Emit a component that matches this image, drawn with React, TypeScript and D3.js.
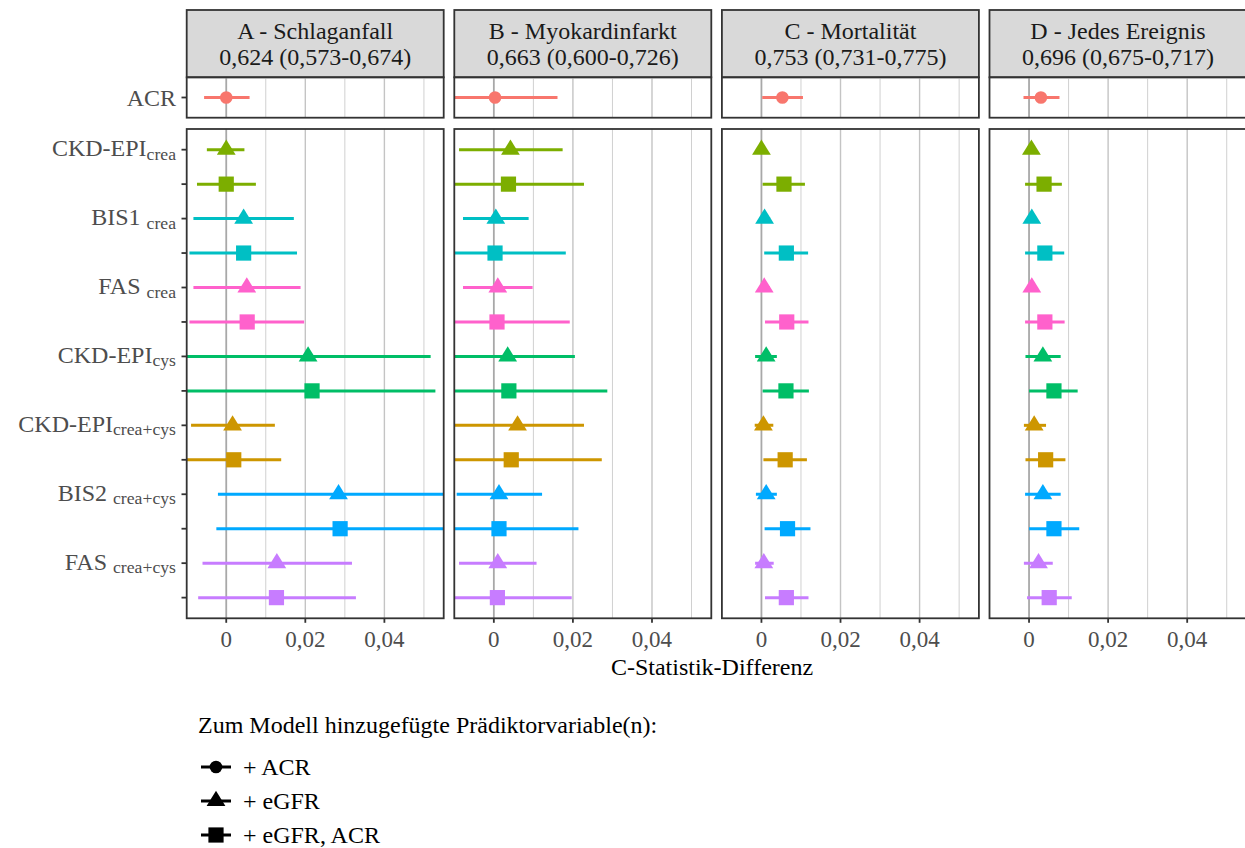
import React from "react";
import * as d3 from "d3";

// ---------- data ----------
const panelTitles = ["A - Schlaganfall", "B - Myokardinfarkt", "C - Mortalität", "D - Jedes Ereignis"];
const panelStats = ["0,624 (0,573-0,674)", "0,663 (0,600-0,726)", "0,753 (0,731-0,775)", "0,696 (0,675-0,717)"];

const eGFRNames = ["CKD-EPI", "BIS1 ", "FAS ", "CKD-EPI", "CKD-EPI", "BIS2 ", "FAS "];
const eGFRSubs = ["crea", "crea", "crea", "cys", "crea+cys", "crea+cys", "crea+cys"];
const eGFRColors = ["#7CAE00", "#00BFC4", "#FF61CC", "#00BE67", "#CD9600", "#00A9FF", "#C77CFF"];
const acrColor = "#F8766D";

// + ACR (one per panel A..D)
const acrEst = [0.0, 0.0003, 0.0053, 0.003];
const acrLo = [-0.0056, -0.012, 0.0002, -0.0014];
const acrHi = [0.0059, 0.0161, 0.0105, 0.0077];

// + eGFR (triangle), per panel, rows in eGFR order
const triEstA = [0.0, 0.0044, 0.0052, 0.0207, 0.0016, 0.0284, 0.0128];
const triLoA = [-0.0049, -0.0083, -0.0083, -0.012, -0.0089, -0.0021, -0.006];
const triHiA = [0.0046, 0.0171, 0.0188, 0.0517, 0.0123, 0.062, 0.0318];
const triEstB = [0.0042, 0.0005, 0.001, 0.0035, 0.006, 0.0013, 0.001];
const triLoB = [-0.0088, -0.0078, -0.0078, -0.011, -0.011, -0.0094, -0.0088];
const triHiB = [0.0174, 0.0088, 0.0098, 0.0205, 0.0228, 0.0122, 0.0108];
const triEstC = [0.0, 0.0008, 0.0007, 0.0012, 0.0005, 0.0012, 0.0006];
const triLoC = [-0.0008, -0.0005, -0.0005, -0.0016, -0.0017, -0.0014, -0.0016];
const triHiC = [0.0008, 0.0022, 0.0021, 0.0039, 0.003, 0.0039, 0.0031];
const triEstD = [0.0006, 0.0007, 0.0007, 0.0035, 0.0013, 0.0035, 0.0024];
const triLoD = [-0.0005, -0.0005, -0.0005, -0.0009, -0.0013, -0.001, -0.0013];
const triHiD = [0.0018, 0.002, 0.002, 0.008, 0.0043, 0.008, 0.006];

// + eGFR, ACR (square)
const sqEstA = [0.0, 0.0044, 0.0053, 0.0217, 0.0019, 0.0288, 0.0127];
const sqLoA = [-0.0074, -0.0093, -0.0093, -0.0125, -0.0105, -0.0025, -0.0071];
const sqHiA = [0.0075, 0.0179, 0.0197, 0.0529, 0.0139, 0.063, 0.0328];
const sqEstB = [0.0037, 0.0003, 0.0008, 0.0038, 0.0044, 0.0013, 0.0009];
const sqLoB = [-0.0115, -0.0115, -0.011, -0.0125, -0.012, -0.0115, -0.011];
const sqHiB = [0.0228, 0.0182, 0.0192, 0.0287, 0.0273, 0.0214, 0.0197];
const sqEstC = [0.0057, 0.0063, 0.0064, 0.0062, 0.006, 0.0066, 0.0063];
const sqLoC = [0.0003, 0.0007, 0.0009, 0.0003, 0.0005, 0.0008, 0.0009];
const sqHiC = [0.011, 0.0118, 0.0119, 0.012, 0.0115, 0.0124, 0.0119];
const sqEstD = [0.0038, 0.004, 0.004, 0.0063, 0.0042, 0.0063, 0.0051];
const sqLoD = [-0.001, -0.001, -0.001, 0.0, -0.0009, 0.0, -0.0005];
const sqHiD = [0.0083, 0.0089, 0.009, 0.0123, 0.0092, 0.0127, 0.0108];

const triEst = [triEstA, triEstB, triEstC, triEstD];
const triLo = [triLoA, triLoB, triLoC, triLoD];
const triHi = [triHiA, triHiB, triHiC, triHiD];
const sqEst = [sqEstA, sqEstB, sqEstC, sqEstD];
const sqLo = [sqLoA, sqLoB, sqLoC, sqLoD];
const sqHi = [sqHiA, sqHiB, sqHiC, sqHiD];

const xDomain = [-0.01, 0.055];
const majorTicks = [0, 0.02, 0.04];
const minorTicks = [0.01, 0.03, 0.05];

const xTitle = "C-Statistik-Differenz";
const legendTitle = "Zum Modell hinzugefügte Prädiktorvariable(n):";
const legendLabels = ["+ ACR", "+ eGFR", "+ eGFR, ACR"];
const legendShapes = ["circle", "triangle", "square"];

// ---------- layout ----------
const W = 1245;
const H = 848;
const FONT = "'Liberation Serif', 'Times New Roman', serif";
const panelLeft0 = 186.7;
const panelStep = 267.6;
const panelW = 257;
const stripTop = 10;
const stripBottom = 77.3;
const topBottom = 117.7;
const botTop = 129;
const botBottom = 618.3;
const borderColor = "#333333";
const FS = 24;

const locale = d3.formatLocale({ decimal: ",", thousands: ".", grouping: [3], currency: ["", "€"] });
const fmt = locale.format(".2~f");

function Marker({ shape, x, y, color }: { shape: string; x: number; y: number; color: string }) {
  if (shape === "circle") return <circle cx={x} cy={y} r={6.3} fill={color} />;
  if (shape === "triangle")
    return <path d={`M${x},${y - 10.2}L${x + 9.4},${y + 5.1}L${x - 9.4},${y + 5.1}Z`} fill={color} />;
  return <rect x={x - 7.6} y={y - 7.6} width={15.2} height={15.2} fill={color} />;
}

export default function App() {
  const rowKeys: string[] = [];
  eGFRNames.forEach((_, i) => {
    rowKeys.push(`${i}-tri`);
    rowKeys.push(`${i}-sq`);
  });
  const yBot = d3.scalePoint<string>().domain(rowKeys).range([botTop, botBottom]).padding(0.6);
  const yTop = d3.scalePoint<string>().domain(["ACR"]).range([stripBottom, topBottom]).padding(0.6);

  const panels = panelTitles.map((t, p) => {
    const x0 = panelLeft0 + p * panelStep;
    const x = d3.scaleLinear().domain(xDomain).range([x0, x0 + panelW]);
    return { t, p, x0, x };
  });

  return (
    <svg
      width={W}
      height={H}
      style={{ position: "absolute", left: 0, top: 0, background: "#fff" }}
      fontFamily={FONT}
    >
      <defs>
        {panels.map(({ p, x0 }) => (
          <React.Fragment key={p}>
            <clipPath id={`clipTop${p}`}>
              <rect x={x0} y={stripBottom} width={panelW} height={topBottom - stripBottom} />
            </clipPath>
            <clipPath id={`clipBot${p}`}>
              <rect x={x0} y={botTop} width={panelW} height={botBottom - botTop} />
            </clipPath>
          </React.Fragment>
        ))}
      </defs>
      <rect x={0} y={0} width={W} height={H} fill="#fff" />

      {panels.map(({ t, p, x0, x }) => (
        <g key={p}>
          {/* strip */}
          <rect x={x0} y={stripTop} width={panelW} height={stripBottom - stripTop} fill="#D9D9D9" stroke={borderColor} strokeWidth={1.8} />
          <text x={x0 + panelW / 2} y={39.3} textAnchor="middle" fontSize={FS} fill="#1A1A1A">{t}</text>
          <text x={x0 + panelW / 2} y={65} textAnchor="middle" fontSize={FS} fill="#1A1A1A">{panelStats[p]}</text>

          {/* grids */}
          {[
            [stripBottom, topBottom],
            [botTop, botBottom],
          ].map(([a, b], gi) => (
            <g key={gi}>
              {minorTicks.map((v) => (
                <line key={"mi" + v} x1={x(v)} x2={x(v)} y1={a} y2={b} stroke="#D0D0D0" strokeWidth={1} />
              ))}
              {majorTicks.map((v) => (
                <line key={"ma" + v} x1={x(v)} x2={x(v)} y1={a} y2={b} stroke={v === 0 ? "#A8A8A8" : "#C4C4C4"} strokeWidth={v === 0 ? 1.8 : 1.4} />
              ))}
            </g>
          ))}

          {/* top panel: ACR */}
          <g clipPath={`url(#clipTop${p})`}>
            <line x1={x(acrLo[p])} x2={x(acrHi[p])} y1={yTop("ACR")!} y2={yTop("ACR")!} stroke={acrColor} strokeWidth={3} />
            <Marker shape="circle" x={x(acrEst[p])} y={yTop("ACR")!} color={acrColor} />
          </g>

          {/* bottom panel */}
          <g clipPath={`url(#clipBot${p})`}>
            {eGFRNames.map((_, i) => {
              const yt = yBot(`${i}-tri`)!;
              const ys = yBot(`${i}-sq`)!;
              const c = eGFRColors[i];
              return (
                <g key={i}>
                  <line x1={x(triLo[p][i])} x2={x(triHi[p][i])} y1={yt} y2={yt} stroke={c} strokeWidth={3} />
                  <Marker shape="triangle" x={x(triEst[p][i])} y={yt} color={c} />
                  <line x1={x(sqLo[p][i])} x2={x(sqHi[p][i])} y1={ys} y2={ys} stroke={c} strokeWidth={3} />
                  <Marker shape="square" x={x(sqEst[p][i])} y={ys} color={c} />
                </g>
              );
            })}
          </g>

          {/* borders */}
          <rect x={x0} y={stripBottom} width={panelW} height={topBottom - stripBottom} fill="none" stroke={borderColor} strokeWidth={1.8} />
          <rect x={x0} y={botTop} width={panelW} height={botBottom - botTop} fill="none" stroke={borderColor} strokeWidth={1.8} />

          {/* x axis */}
          {majorTicks.map((v) => (
            <g key={"xt" + v}>
              <line x1={x(v)} x2={x(v)} y1={botBottom} y2={botBottom + 4.5} stroke={borderColor} strokeWidth={1.8} />
              <text x={x(v)} y={647} textAnchor="middle" fontSize={23} fill="#4D4D4D">{fmt(v)}</text>
            </g>
          ))}
        </g>
      ))}

      {/* y axis */}
      <line x1={181.5} x2={panelLeft0} y1={yTop("ACR")!} y2={yTop("ACR")!} stroke={borderColor} strokeWidth={1.8} />
      <text x={176} y={yTop("ACR")! + 8.5} textAnchor="end" fontSize={FS} fill="#4D4D4D">ACR</text>
      {rowKeys.map((k) => (
        <line key={k} x1={181.5} x2={panelLeft0} y1={yBot(k)!} y2={yBot(k)!} stroke={borderColor} strokeWidth={1.8} />
      ))}
      {eGFRNames.map((n, i) => (
        <text key={i} x={176} y={yBot(`${i}-tri`)! + 6.7} textAnchor="end" fontSize={FS} fill="#4D4D4D" style={{ whiteSpace: "pre" }}>
          <tspan>{n}</tspan>
          <tspan fontSize={17.7} dy={3.3}>{eGFRSubs[i]}</tspan>
        </text>
      ))}

      {/* x title */}
      <text x={712} y={675} textAnchor="middle" fontSize={FS} fill="#000">{xTitle}</text>

      {/* legend */}
      <text x={198} y={733} fontSize={FS} fill="#000">{legendTitle}</text>
      {legendLabels.map((l, i) => {
        const cy = 767 + i * 34;
        return (
          <g key={l}>
            <line x1={201} x2={231} y1={cy} y2={cy} stroke="#000" strokeWidth={3} />
            <Marker shape={legendShapes[i]} x={216} y={cy} color="#000" />
            <text x={243} y={cy + 8} fontSize={FS} fill="#000">{l}</text>
          </g>
        );
      })}
    </svg>
  );
}
